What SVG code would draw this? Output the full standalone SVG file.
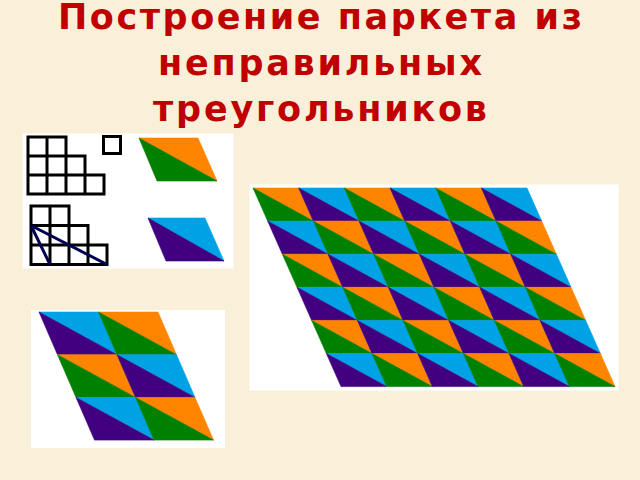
<svg xmlns="http://www.w3.org/2000/svg" xmlns:xlink="http://www.w3.org/1999/xlink" width="640" height="480" viewBox="0 0 640 480">
<style>
.title{font-family:"DejaVu Sans","Liberation Sans",sans-serif;font-weight:bold;font-size:35px;fill:#C00000;}
.o{fill:#FF8400;stroke:#FF8400;stroke-width:0.6;}
.g{fill:#008000;stroke:#008000;stroke-width:0.6;}
.b{fill:#00A2E6;stroke:#00A2E6;stroke-width:0.6;}
.p{fill:#400080;stroke:#400080;stroke-width:0.6;}
.grid{fill:none;stroke:#000;stroke-width:3;}
.diag{fill:none;stroke:#000050;stroke-width:3;}
.panel{fill:#FFFFFF;}
</style>
<defs>
<g id="tO"><polygon class="o" points="0,0 45.67,0 60.34,33.1"/><polygon class="g" points="0,0 60.34,33.1 14.67,33.1"/></g>
<g id="tB"><polygon class="b" points="0,0 45.67,0 60.34,33.1"/><polygon class="p" points="0,0 60.34,33.1 14.67,33.1"/></g>
<g id="sO"><polygon class="o" points="0,0 59.5,0 78,42.7"/><polygon class="g" points="0,0 78,42.7 18.5,42.7"/></g>
<g id="sB"><polygon class="b" points="0,0 59.5,0 78,42.7"/><polygon class="p" points="0,0 78,42.7 18.5,42.7"/></g>
</defs>
<rect x="0" y="0" width="640" height="480" fill="#FAF0D9"/>
<g id="title">
<text class="title" x="320" y="29" text-anchor="middle" textLength="524" lengthAdjust="spacing">Построение паркета из</text>
<text class="title" x="320" y="75" text-anchor="middle" textLength="324" lengthAdjust="spacing">неправильных</text>
<text class="title" x="320" y="121" text-anchor="middle" textLength="334" lengthAdjust="spacing">треугольников</text>
</g>
<g id="panel-construction">
<rect class="panel" x="22.5" y="133.5" width="211" height="135"/>
<g id="staircase-grid">
<path class="grid" d="M28,137H66V156H85V175H104V194H28Z M28,156H66 M28,175H85 M47,137V194 M66,156V194 M85,175V194"/>
<rect class="grid" x="103.5" y="136.5" width="17" height="17"/>
</g>
<g id="staircase-diagonals">
<path class="grid" d="M31,206H69V225.5H88V245H107V264.5H31Z M31,225.5H69 M31,245H88 M50,206V264.5 M69,225.5V264.5 M88,245V264.5"/>
<path class="diag" d="M31,225.5L50,264.5 M31,225.5L107,264.5"/>
</g>
<g id="tile-orange">
<polygon class="o" points="139,138 198,138 217,181"/>
<polygon class="g" points="139,138 217,181 157,181"/>
</g>
<g id="tile-blue">
<polygon class="b" points="148,218 205,218 224,261"/>
<polygon class="p" points="148,218 224,261 166,261"/>
</g>
</g>
<g id="panel-small-parquet">
<rect class="panel" x="31" y="310" width="194" height="138"/>
<use xlink:href="#sB" x="39" y="312"/>
<use xlink:href="#sO" x="98.5" y="312"/>
<use xlink:href="#sO" x="57.5" y="354.7"/>
<use xlink:href="#sB" x="117" y="354.7"/>
<use xlink:href="#sB" x="76" y="397.4"/>
<use xlink:href="#sO" x="135.5" y="397.4"/>
</g>
<g id="panel-large-parquet">
<rect class="panel" x="249.5" y="184.5" width="369" height="206"/>
<use xlink:href="#tO" x="253" y="188"/>
<use xlink:href="#tB" x="298.67" y="188"/>
<use xlink:href="#tO" x="344.34" y="188"/>
<use xlink:href="#tB" x="390.01" y="188"/>
<use xlink:href="#tO" x="435.68" y="188"/>
<use xlink:href="#tB" x="481.35" y="188"/>
<use xlink:href="#tB" x="267.67" y="221.1"/>
<use xlink:href="#tO" x="313.34" y="221.1"/>
<use xlink:href="#tB" x="359.01" y="221.1"/>
<use xlink:href="#tO" x="404.68" y="221.1"/>
<use xlink:href="#tB" x="450.35" y="221.1"/>
<use xlink:href="#tO" x="496.02" y="221.1"/>
<use xlink:href="#tO" x="282.34" y="254.2"/>
<use xlink:href="#tB" x="328.01" y="254.2"/>
<use xlink:href="#tO" x="373.68" y="254.2"/>
<use xlink:href="#tB" x="419.35" y="254.2"/>
<use xlink:href="#tO" x="465.02" y="254.2"/>
<use xlink:href="#tB" x="510.69" y="254.2"/>
<use xlink:href="#tB" x="297.01" y="287.3"/>
<use xlink:href="#tO" x="342.68" y="287.3"/>
<use xlink:href="#tB" x="388.35" y="287.3"/>
<use xlink:href="#tO" x="434.02" y="287.3"/>
<use xlink:href="#tB" x="479.69" y="287.3"/>
<use xlink:href="#tO" x="525.36" y="287.3"/>
<use xlink:href="#tO" x="311.68" y="320.4"/>
<use xlink:href="#tB" x="357.35" y="320.4"/>
<use xlink:href="#tO" x="403.02" y="320.4"/>
<use xlink:href="#tB" x="448.69" y="320.4"/>
<use xlink:href="#tO" x="494.36" y="320.4"/>
<use xlink:href="#tB" x="540.03" y="320.4"/>
<use xlink:href="#tB" x="326.35" y="353.5"/>
<use xlink:href="#tO" x="372.02" y="353.5"/>
<use xlink:href="#tB" x="417.69" y="353.5"/>
<use xlink:href="#tO" x="463.36" y="353.5"/>
<use xlink:href="#tB" x="509.03" y="353.5"/>
<use xlink:href="#tO" x="554.7" y="353.5"/>
</g>
</svg>
